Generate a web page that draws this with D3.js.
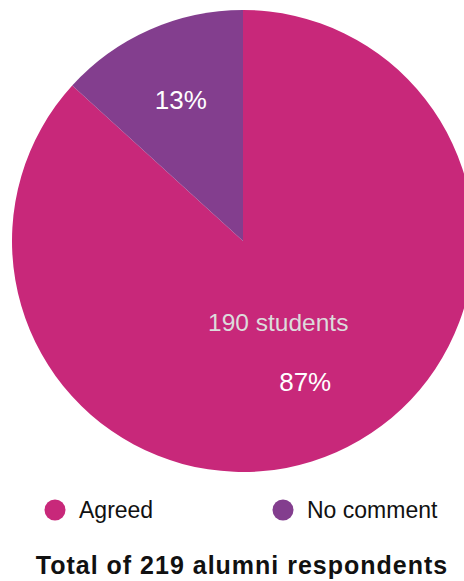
<!DOCTYPE html>
<html>
<head>
<meta charset="utf-8">
<script src="https://cdn.jsdelivr.net/npm/d3@7"></script>
<style>
  html, body { margin: 0; padding: 0; background: #fff; }
  svg { display: block; font-family: "Liberation Sans", Arial, sans-serif; }
</style>
</head>
<body>
<svg id="chart" width="464" height="581"></svg>
<script>
// data
const categories = ["Agreed", "No comment"];
const counts = [190, 29];
const colors = ["#c8287a", "#833e8e"];
const total = 219;

const svg = d3.select("#chart");
const cx = 243, cy = 241, radius = 231;

const slices = categories.map((c, i) => ({ name: c, value: counts[i], color: colors[i] }));

const pie = d3.pie()
  .sort(null)
  .value(d => d.value);

const arc = d3.arc().innerRadius(0).outerRadius(radius);
const labelArc = d3.arc().innerRadius(154).outerRadius(154);

const g = svg.append("g").attr("transform", `translate(${cx},${cy})`);
const arcs = pie(slices);

g.selectAll("path.slice")
  .data(arcs)
  .join("path")
  .attr("class", "slice")
  .attr("d", arc)
  .attr("fill", d => d.data.color);

// percent labels
g.selectAll("text.pct")
  .data(arcs)
  .join("text")
  .attr("class", "pct")
  .attr("x", d => labelArc.centroid(d)[0])
  .attr("y", d => labelArc.centroid(d)[1] + 9)
  .attr("text-anchor", "middle")
  .attr("fill", "#fff")
  .style("font-size", "26px")
  .text(d => Math.round(d.data.value / total * 100) + "%");

// student count on the big slice
const big = arcs[0];
g.append("text")
  .attr("x", labelArc.centroid(big)[0] - 27)
  .attr("y", labelArc.centroid(big)[1] - 51)
  .attr("text-anchor", "middle")
  .attr("fill", "#dcdcdc")
  .style("font-size", "24.5px")
  .text(big.data.value + " students");

// legend
const legendX = [55, 283];
const legend = svg.selectAll("g.legend")
  .data(slices)
  .join("g")
  .attr("class", "legend")
  .attr("transform", (d, i) => `translate(${legendX[i]},510)`);

legend.append("circle")
  .attr("r", 10.5)
  .attr("fill", d => d.color);

legend.append("text")
  .attr("x", 24)
  .attr("y", 7.5)
  .attr("fill", "#111")
  .style("font-size", "23px")
  .text(d => d.name);

// title
svg.append("text")
  .attr("x", 242)
  .attr("y", 574)
  .attr("text-anchor", "middle")
  .attr("fill", "#111")
  .style("font-size", "25px")
  .style("font-weight", "bold")
  .style("letter-spacing", "1px")
  .text(`Total of ${total} alumni respondents`);
</script>
</body>
</html>
